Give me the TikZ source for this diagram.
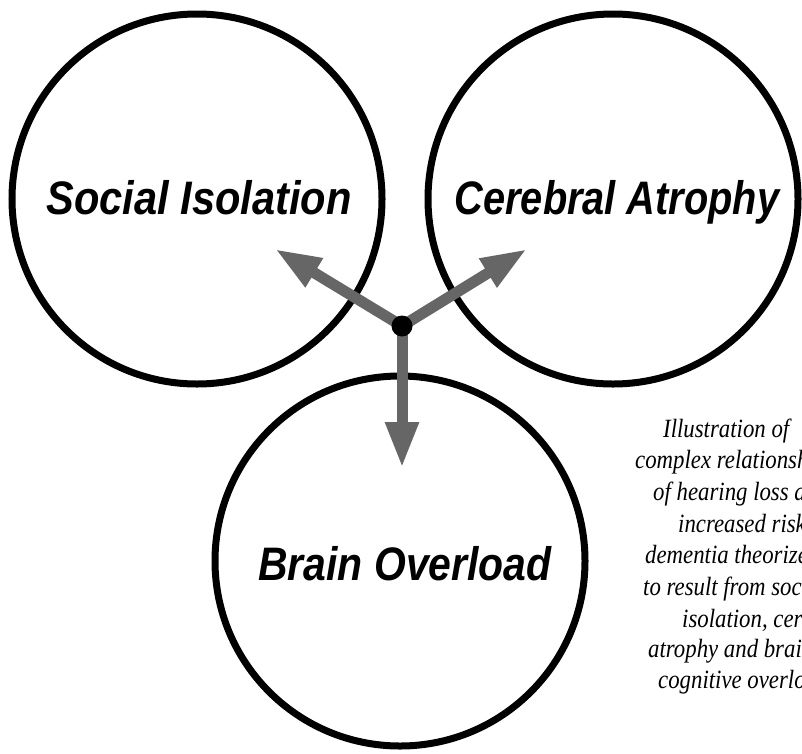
\documentclass[tikz,border=0pt]{standalone}
\usepackage{fontspec}
\setmainfont{Liberation Serif}
\newfontfamily\labelfont{Liberation Sans}
\usetikzlibrary{arrows.meta}
\definecolor{arrowgray}{RGB}{102,102,102}
\newcommand{\captline}[1]{\scalebox{0.97}[1.12]{#1}}
\begin{document}
\begin{tikzpicture}[x=1pt,y=-1pt,
  ring/.style={circle,draw=black,line width=7pt,minimum size=370pt,inner sep=0pt},
  lbl/.style={inner sep=0pt,anchor=base,font=\labelfont\bfseries\itshape\fontsize{47}{50}\selectfont},
  arr/.style={draw=arrowgray,line width=11pt,-{Triangle[width=31pt,length=46pt]},arrowgray},
  hubdot/.style={circle,fill=black,minimum size=21pt,inner sep=0pt},
  captext/.style={inner sep=0pt,anchor=base west,font=\itshape\fontsize{23.5}{28}\selectfont}]
\useasboundingbox (0,0) rectangle (802,753);
\fill[white] (0,0) rectangle (802,753);
\begin{scope}
\clip (0,0) rectangle (802,753);
% circles
\node[ring] (social) at (197,199) {};
\node[ring] (cerebral) at (613,199) {};
\node[ring] (brain) at (400,561) {};
% labels
\node[lbl] (tsocial) at (199,214) {\scalebox{0.885}[1]{Social Isolation}};
\node[lbl] (tcerebral) at (617,214) {\scalebox{0.846}[1]{Cerebral Atrophy}};
\node[lbl] (tbrain) at (405,580) {\scalebox{0.87}[1]{Brain Overload}};
% arrows
\coordinate (hubc) at (402,326);
\coordinate (tipL) at (275,249);
\coordinate (tipR) at (527,249);
\coordinate (tipD) at (402,468);
\draw[arr] (hubc) -- (tipL);
\draw[arr] (hubc) -- (tipR);
\draw[arr] (hubc) -- (tipD);
\node[hubdot] (hub) at (hubc) {};
% caption
\node[captext] (c1) at (663,437) {\captline{Illustration of}};
\node[captext] (c2) at (635,468) {\captline{complex relationship}};
\node[captext] (c3) at (653,500) {\captline{of hearing loss and}};
\node[captext] (c4) at (678,532) {\captline{increased risk}};
\node[captext] (c5) at (645,563) {\captline{dementia theorized}};
\node[captext] (c6) at (643,595) {\captline{to result from social}};
\node[captext] (c7) at (682,627) {\captline{isolation, cerebral}};
\node[captext] (c8) at (648,657) {\captline{atrophy and brain}};
\node[captext] (c9) at (658,688) {\captline{cognitive overload}};
\end{scope}
\end{tikzpicture}
\end{document}
